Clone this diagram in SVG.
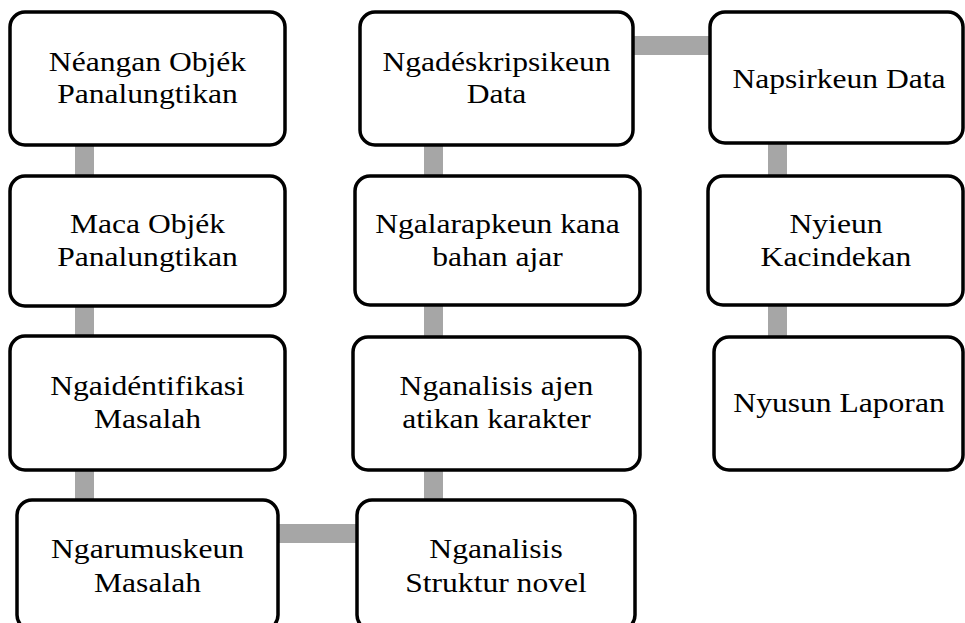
<svg xmlns="http://www.w3.org/2000/svg" width="965" height="623" viewBox="0 0 965 623">
<style>
.box{fill:#fff;stroke:#000;stroke-width:3.5}
.con{stroke:#a6a6a6;stroke-width:19;fill:none}
.t{font-family:'Liberation Serif','Times New Roman',Times,'DejaVu Serif',serif;font-size:27px;fill:#000;text-anchor:middle}
</style>
<rect width="965" height="623" fill="#fff"/>
<g id="connectors">
<line class="con" x1="84.5" y1="140" x2="84.5" y2="505"/>
<line class="con" x1="270" y1="533.5" x2="365" y2="533.5"/>
<line class="con" x1="433.5" y1="140" x2="433.5" y2="505"/>
<line class="con" x1="625" y1="45.5" x2="718" y2="45.5"/>
<line class="con" x1="777.5" y1="140" x2="777.5" y2="342"/>
</g>
<g id="n1"><rect class="box" x="10" y="12" width="275" height="133" rx="15"/>
<g class="t" transform="translate(147.5,0) scale(1.17,1)"><text x="0" y="71">Néangan Objék</text><text x="0" y="103">Panalungtikan</text></g></g>
<g id="n2"><rect class="box" x="10" y="176" width="275" height="130" rx="15"/>
<g class="t" transform="translate(147.5,0) scale(1.17,1)"><text x="0" y="233">Maca Objék</text><text x="0" y="266">Panalungtikan</text></g></g>
<g id="n3"><rect class="box" x="10" y="336" width="275" height="134" rx="15"/>
<g class="t" transform="translate(147.5,0) scale(1.17,1)"><text x="0" y="395">Ngaidéntifikasi</text><text x="0" y="428">Masalah</text></g></g>
<g id="n4"><rect class="box" x="17" y="500" width="261" height="130" rx="15"/>
<g class="t" transform="translate(147.5,0) scale(1.17,1)"><text x="0" y="558">Ngarumuskeun</text><text x="0" y="592">Masalah</text></g></g>
<g id="n5"><rect class="box" x="357" y="500" width="278" height="130" rx="15"/>
<g class="t" transform="translate(496,0) scale(1.17,1)"><text x="0" y="558">Nganalisis</text><text x="0" y="592">Struktur novel</text></g></g>
<g id="n6"><rect class="box" x="353" y="337" width="287" height="133" rx="15"/>
<g class="t" transform="translate(496.5,0) scale(1.17,1)"><text x="0" y="395">Nganalisis ajen</text><text x="0" y="428">atikan karakter</text></g></g>
<g id="n7"><rect class="box" x="355" y="176" width="285" height="129" rx="15"/>
<g class="t" transform="translate(497.5,0) scale(1.17,1)"><text x="0" y="233">Ngalarapkeun kana</text><text x="0" y="266">bahan ajar</text></g></g>
<g id="n8"><rect class="box" x="360" y="12" width="273" height="133" rx="15"/>
<g class="t" transform="translate(496.5,0) scale(1.17,1)"><text x="0" y="71">Ngadéskripsikeun</text><text x="0" y="103">Data</text></g></g>
<g id="n9"><rect class="box" x="710" y="12" width="253" height="131" rx="15"/>
<g class="t" transform="translate(839,0) scale(1.17,1)"><text x="0" y="88">Napsirkeun Data</text></g></g>
<g id="n10"><rect class="box" x="708" y="176" width="255" height="129" rx="15"/>
<g class="t" transform="translate(836,0) scale(1.17,1)"><text x="0" y="233">Nyieun</text><text x="0" y="266">Kacindekan</text></g></g>
<g id="n11"><rect class="box" x="714" y="337" width="249" height="133" rx="15"/>
<g class="t" transform="translate(839,0) scale(1.17,1)"><text x="0" y="412">Nyusun Laporan</text></g></g>
</svg>
